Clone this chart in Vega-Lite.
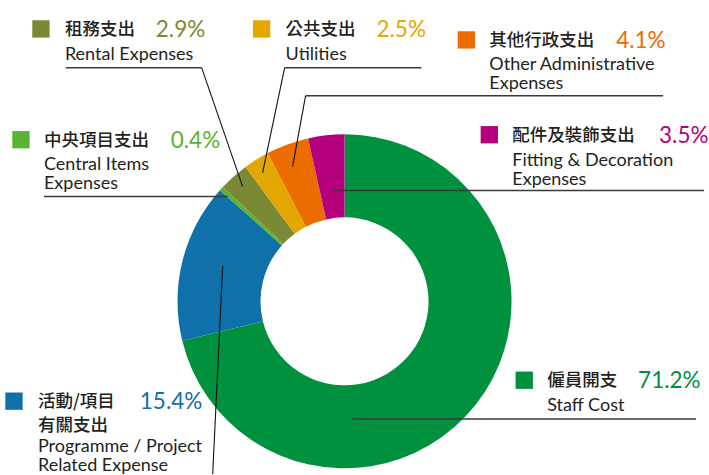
{
  "$schema": "https://vega.github.io/schema/vega-lite/v6.json",
  "width": 709,
  "height": 475,
  "autosize": {"type": "fit", "contains": "padding"},
  "padding": 0,
  "background": "white",
  "config": {"view": {"stroke": null}},
  "datasets": {
    "slices": [
      {"cat": "Staff", "value": 71.2, "ord": 1},
      {"cat": "Programme", "value": 15.4, "ord": 2},
      {"cat": "Central", "value": 0.4, "ord": 3},
      {"cat": "Rental", "value": 2.9, "ord": 4},
      {"cat": "Utilities", "value": 2.5, "ord": 5},
      {"cat": "Other", "value": 4.1, "ord": 6},
      {"cat": "Fitting", "value": 3.5, "ord": 7}
    ],
    "labels": [
      {"cat": "Rental", "zh": "租務支出", "pct": "2.9%", "en": "Rental Expenses", "sx": 41, "sy": 29, "tx": 65, "ty": 30, "px": 156, "ey": 60},
      {"cat": "Utilities", "zh": "公共支出", "pct": "2.5%", "en": "Utilities", "sx": 262, "sy": 29, "tx": 286, "ty": 30, "px": 377, "ey": 60},
      {"cat": "Other", "zh": "其他行政支出", "pct": "4.1%", "en": "Other Administrative\nExpenses", "sx": 467, "sy": 40, "tx": 490, "ty": 41, "px": 617, "ey": 70},
      {"cat": "Fitting", "zh": "配件及裝飾支出", "pct": "3.5%", "en": "Fitting & Decoration\nExpenses", "sx": 490, "sy": 135, "tx": 513, "ty": 136, "px": 660, "ey": 166},
      {"cat": "Central", "zh": "中央項目支出", "pct": "0.4%", "en": "Central Items\nExpenses", "sx": 21, "sy": 140, "tx": 44, "ty": 141, "px": 171, "ey": 170},
      {"cat": "Programme", "zh": "活動/項目\n有關支出", "pct": "15.4%", "en": "Programme / Project\nRelated Expense", "sx": 14, "sy": 402, "tx": 38, "ty": 403, "px": 140, "ey": 453},
      {"cat": "Staff", "zh": "僱員開支", "pct": "71.2%", "en": "Staff Cost", "sx": 525, "sy": 381, "tx": 548, "ty": 382, "px": 639, "ey": 412}
    ],
    "underlines": [
      {"cat": "Rental", "x": 66, "y": 68, "x2": 202, "y2": 68},
      {"cat": "Utilities", "x": 285, "y": 68, "x2": 422, "y2": 68},
      {"cat": "Other", "x": 306, "y": 96, "x2": 664, "y2": 96},
      {"cat": "Fitting", "x": 333, "y": 191, "x2": 705, "y2": 191},
      {"cat": "Central", "x": 44, "y": 197, "x2": 228, "y2": 197},
      {"cat": "Staff", "x": 353, "y": 420, "x2": 697, "y2": 420}
    ],
    "leaders": [
      {"cat": "Rental", "x": 202, "y": 68, "x2": 243, "y2": 187},
      {"cat": "Utilities", "x": 285, "y": 68, "x2": 263, "y2": 173},
      {"cat": "Other", "x": 306, "y": 96, "x2": 293, "y2": 167},
      {"cat": "Programme", "x": 213, "y": 475, "x2": 223, "y2": 266}
    ]
  },
  "layer": [
    {
      "data": {"name": "slices"},
      "mark": {"type": "arc", "outerRadius": 167, "innerRadius": 84},
      "encoding": {
        "x": {"datum": 345, "type": "quantitative", "scale": {"domain": [0, 709], "nice": false, "zero": false}, "axis": null},
        "y": {"datum": 302, "type": "quantitative", "scale": {"domain": [0, 475], "nice": false, "zero": false, "reverse": true}, "axis": null},
        "theta": {"field": "value", "type": "quantitative", "stack": true},
        "order": {"field": "ord", "type": "quantitative"},
        "color": {
          "field": "cat", "type": "nominal", "legend": null,
          "scale": {
            "domain": ["Staff", "Programme", "Central", "Rental", "Utilities", "Other", "Fitting"],
            "range": ["#00913F", "#1070AA", "#5AB431", "#7C8934", "#E4A600", "#EC6C00", "#B4007C"]
          }
        }
      }
    },
    {
      "data": {"name": "underlines"},
      "mark": {"type": "rule", "color": "#3a3a3a", "strokeWidth": 1.5},
      "encoding": {
        "x": {"field": "x", "type": "quantitative"},
        "y": {"field": "y", "type": "quantitative"},
        "x2": {"field": "x2"},
        "y2": {"field": "y2"}
      }
    },
    {
      "data": {"name": "leaders"},
      "mark": {"type": "rule", "color": "#111111", "strokeWidth": 1.1},
      "encoding": {
        "x": {"field": "x", "type": "quantitative"},
        "y": {"field": "y", "type": "quantitative"},
        "x2": {"field": "x2"},
        "y2": {"field": "y2"}
      }
    },
    {
      "data": {"name": "labels"},
      "mark": {"type": "point", "shape": "square", "filled": true, "size": 300, "opacity": 1},
      "encoding": {
        "x": {"field": "sx", "type": "quantitative"},
        "y": {"field": "sy", "type": "quantitative"},
        "color": {"field": "cat", "type": "nominal", "legend": null}
      }
    },
    {
      "data": {"name": "labels"},
      "mark": {"type": "text", "align": "left", "baseline": "middle", "font": "Noto Sans CJK TC", "fontSize": 17.5, "fontWeight": 500, "color": "#231F20", "lineBreak": "\n", "lineHeight": 24},
      "encoding": {
        "x": {"field": "tx", "type": "quantitative"},
        "y": {"field": "ty", "type": "quantitative"},
        "text": {"field": "zh"}
      }
    },
    {
      "data": {"name": "labels"},
      "mark": {"type": "text", "align": "left", "baseline": "middle", "font": "Lato", "fontSize": 22.5, "fontWeight": "normal"},
      "encoding": {
        "x": {"field": "px", "type": "quantitative"},
        "y": {"field": "ty", "type": "quantitative"},
        "text": {"field": "pct"},
        "color": {"field": "cat", "type": "nominal", "legend": null}
      }
    },
    {
      "data": {"name": "labels"},
      "mark": {"type": "text", "align": "left", "baseline": "alphabetic", "font": "Lato", "fontSize": 18, "color": "#231F20", "lineBreak": "\n", "lineHeight": 19},
      "encoding": {
        "x": {"field": "tx", "type": "quantitative"},
        "y": {"field": "ey", "type": "quantitative"},
        "text": {"field": "en"}
      }
    }
  ]
}
